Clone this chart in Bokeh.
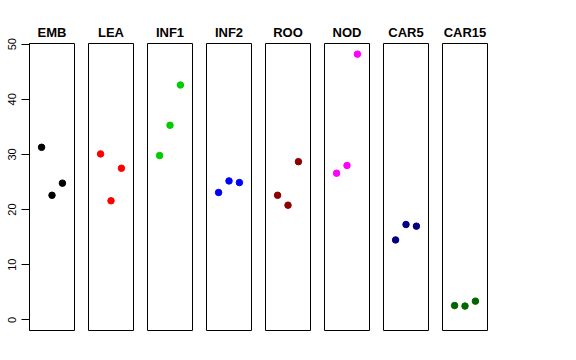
from bokeh.plotting import figure
from bokeh.layouts import row
from bokeh.models import Range1d, FixedTicker
from bokeh.embed import file_html
from bokeh.resources import INLINE

groups = ["EMB", "LEA", "INF1", "INF2", "ROO", "NOD", "CAR5", "CAR15"]
colors = ["#000000", "#FF0000", "#00CD00", "#0000FF", "#8B0000", "#FF00FF", "#000080", "#006400"]
reps = [1, 2, 3]
emb = [31.3, 22.6, 24.8]
lea = [30.1, 21.6, 27.5]
inf1 = [29.8, 35.3, 42.6]
inf2 = [23.1, 25.2, 24.9]
roo = [22.6, 20.8, 28.7]
nod = [26.6, 28.0, 48.2]
car5 = [14.5, 17.3, 17.0]
car15 = [2.6, 2.5, 3.4]
values = [emb, lea, inf1, inf2, roo, nod, car5, car15]
y_ticks = [0, 10, 20, 30, 40, 50]

# R-style 4% padding of the ranges
ylo, yhi = 0, max(max(v) for v in values)
ypad = 0.04 * (yhi - ylo)
xlo, xhi = 0, 4
xpad = 0.04 * (xhi - xlo)

FONT = "Liberation Sans"
figs = []
for i, (name, col, vals) in enumerate(zip(groups, colors, values)):
    p = figure(
        frame_width=45, frame_height=287,
        x_range=Range1d(xlo - xpad, xhi + xpad),
        y_range=Range1d(ylo - ypad, yhi + ypad),
        output_backend="svg", toolbar_location=None,
        min_border_left=29 if i == 0 else 7, min_border_right=7,
        min_border_top=43, min_border_bottom=8,
        x_axis_location=None,
        y_axis_location="left" if i == 0 else None,
    )
    p.grid.visible = False
    p.outline_line_color = "black"
    p.outline_line_width = 1
    p.background_fill_color = "white"
    p.border_fill_color = "white"
    p.title.text = name
    p.title.align = "center"
    p.title.text_font = FONT
    p.title.text_font_style = "bold"
    p.title.text_font_size = "13px"
    p.title.text_color = "black"
    p.title.standoff = 7
    if i == 0:
        ax = p.yaxis[0]
        ax.ticker = FixedTicker(ticks=y_ticks)
        ax.minor_tick_line_color = None
        ax.major_tick_out = 8
        ax.major_tick_in = 0
        ax.major_label_orientation = "vertical"
        ax.major_label_text_font = FONT
        ax.major_label_text_font_size = "11px"
        ax.major_label_text_color = "black"
        ax.major_label_standoff = 5
        ax.axis_line_color = "black"
        ax.major_tick_line_color = "black"
    p.scatter(x=reps, y=vals, size=6.5, color=col, line_color=col)
    figs.append(p)

layout = row(*figs, spacing=0)
open("out.html", "w").write(file_html(layout, INLINE))
